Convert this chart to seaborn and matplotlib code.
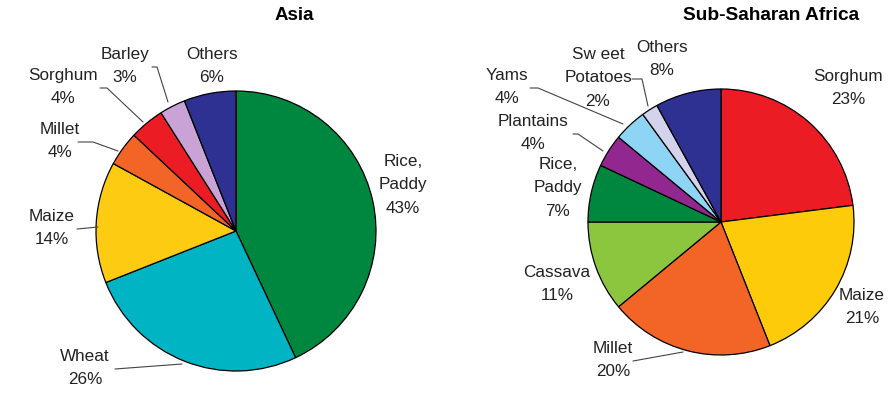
import matplotlib
matplotlib.use("Agg")
import matplotlib.pyplot as plt
import seaborn as sns

# ---- data ----
asia_labels = ["Rice,\nPaddy", "Wheat", "Maize", "Millet", "Sorghum", "Barley", "Others"]
asia_values = [43, 26, 14, 4, 4, 3, 6]
asia_colors = ["#00873F", "#00B4C3", "#FDCB12", "#F26526", "#EC1C24", "#C9A3D6", "#2E3192"]

africa_labels = ["Sorghum", "Maize", "Millet", "Cassava", "Rice,\nPaddy", "Plantains",
                 "Yams", "Sw eet\nPotatoes", "Others"]
africa_values = [23, 21, 20, 11, 7, 4, 4, 2, 8]
africa_colors = ["#EC1C24", "#FDCB0A", "#F26526", "#8CC63F", "#00873F", "#92278F",
                 "#8ED5F5", "#D3D3EC", "#2E3192"]

W, H = 890, 402

sns.set_theme(style="white")
plt.rcParams["font.family"] = ["Liberation Sans", "DejaVu Sans"]

fig = plt.figure(figsize=(W / 100, H / 100), dpi=100)
ax = fig.add_axes([0, 0, 1, 1])

def Y(y):
    return H - y

def draw_pie(values, colors, cx, cy, r):
    ax.pie(values, colors=colors, center=(cx, Y(cy)), radius=r, startangle=90,
           counterclock=False, frame=True,
           wedgeprops=dict(edgecolor="black", linewidth=0.9))

draw_pie(asia_values, asia_colors, 236, 232, 140)
draw_pie(africa_values, africa_colors, 721, 223, 133)

fs = 12.3
ls = 1.68
asia_pos = {"Rice,\nPaddy": (403, 185), "Wheat": (85, 368), "Maize": (52, 228),
            "Millet": (60, 141), "Sorghum": (63, 87), "Barley": (125, 66),
            "Others": (212, 66)}
for lab, v in zip(asia_labels, asia_values):
    x, y = asia_pos[lab]
    ax.text(x, Y(y), f"{lab}\n{v}%", ha="center", va="center", fontsize=fs,
            linespacing=ls, color="#222222")

africa_pos = {"Sorghum": (848, 88), "Maize": (862, 307), "Millet": (613, 360),
              "Cassava": (557, 284), "Rice,\nPaddy": (558, 188), "Plantains": (533, 133),
              "Yams": (507, 87), "Sw eet\nPotatoes": (598, 78), "Others": (662, 59)}
for lab, v in zip(africa_labels, africa_values):
    x, y = africa_pos[lab]
    ax.text(x, Y(y), f"{lab}\n{v}%", ha="center", va="center", fontsize=fs,
            linespacing=ls, color="#222222")

# leader lines
leaders = [
    [(152, 68), (157, 68), (168, 103)],        # Barley
    [(100, 89), (107, 89), (143, 123)],        # Sorghum
    [(78, 143), (93, 143), (118, 152)],        # Millet
    [(77, 230), (98, 228)],                    # Maize
    [(115, 370), (182, 365)],                  # Wheat
    [(530, 89), (538, 89), (623, 125)],        # Yams
    [(573, 135), (578, 135), (603, 152)],      # Plantains
    [(632, 80), (642, 80), (648, 107)],        # Sweet potatoes
    [(633, 362), (683, 353)],                  # Millet (Africa)
]
for pts in leaders:
    xs = [p[0] for p in pts]
    ys = [Y(p[1]) for p in pts]
    ax.plot(xs, ys, color="#444444", linewidth=0.8)

ax.text(294, Y(16), "Asia", ha="center", va="center", fontsize=13.5,
        fontweight="bold", color="black")
ax.text(771, Y(16), "Sub-Saharan Africa", ha="center", va="center", fontsize=13.8,
        fontweight="bold", color="black")

ax.set_xlim(0, W)
ax.set_ylim(0, H)
ax.set_aspect("auto")
ax.axis("off")
fig.savefig("out.png", dpi=100, facecolor="white")
